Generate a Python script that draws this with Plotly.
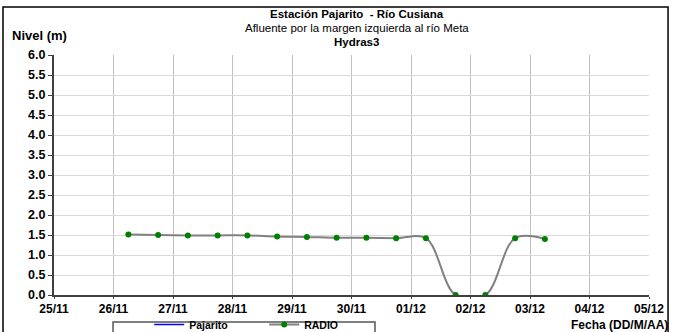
import plotly.graph_objects as go

# Datos: lecturas cada 12 horas
fechas = [
    "2012-11-26 06:00", "2012-11-26 18:00", "2012-11-27 06:00", "2012-11-27 18:00",
    "2012-11-28 06:00", "2012-11-28 18:00", "2012-11-29 06:00", "2012-11-29 18:00",
    "2012-11-30 06:00", "2012-11-30 18:00", "2012-12-01 06:00", "2012-12-01 18:00",
    "2012-12-02 06:00", "2012-12-02 18:00", "2012-12-03 06:00",
]
radio = [1.51, 1.50, 1.49, 1.49, 1.49, 1.46, 1.45, 1.43, 1.43, 1.42, 1.42, 0.0, 0.0, 1.42, 1.40]
pajarito = [None] * len(fechas)

titulos = [
    "<b>Estación Pajarito  - Río Cusiana</b>",
    "Afluente por la margen izquierda al río Meta",
    "<b>Hydras3</b>",
]

FONT = "Liberation Sans, Arial, sans-serif"

fig = go.Figure()

fig.add_trace(go.Scatter(
    x=fechas, y=pajarito, name="Pajarito", mode="lines",
    line=dict(color="#0000ff", width=1.5),
))
fig.add_trace(go.Scatter(
    x=fechas, y=radio, name="RADIO", mode="lines+markers",
    line=dict(color="#808080", width=2, shape="spline", smoothing=1),
    marker=dict(color="#008000", size=6),
))

# títulos en tres líneas separadas
anotaciones = []
for texto, yy in zip(titulos, [1.169, 1.1125, 1.056]):
    anotaciones.append(dict(
        text=texto, xref="paper", yref="paper", x=0.509, y=yy,
        xanchor="center", yanchor="middle", showarrow=False,
        font=dict(family=FONT, size=11.5),
    ))
anotaciones += [
    dict(text="<b>Nivel (m)</b>", xref="paper", yref="paper", x=-0.074, y=1.08,
         xanchor="left", yanchor="middle", showarrow=False, font=dict(family=FONT, size=13)),
    dict(text="<b>Fecha (DD/M/AA)</b>", xref="paper", yref="paper", x=1.035, y=-0.125,
         xanchor="right", yanchor="middle", showarrow=False, font=dict(family=FONT, size=12)),
]

fig.update_layout(
    width=673, height=332,
    margin=dict(l=54, r=24, t=55, b=37, autoexpand=False),
    paper_bgcolor="white", plot_bgcolor="white",
    font=dict(family=FONT, size=11, color="black"),
    showlegend=True,
    legend=dict(
        orientation="h", x=0.16, y=-0.0625, xanchor="left", yanchor="top",
        bgcolor="rgba(0,0,0,0)", borderwidth=0, entrywidth=70,
        font=dict(family=FONT, size=10.5, weight="bold"), itemwidth=30,
    ),
    annotations=anotaciones,
    shapes=[
        # marco exterior
        dict(type="rect", xref="paper", yref="paper", x0=-0.0857, x1=1.032, y0=-0.3, y1=1.2,
             line=dict(color="black", width=1.5), layer="below"),
        # recuadro de la leyenda
        dict(type="rect", xref="paper", yref="paper", x0=0.0992, x1=0.5395, y0=-0.3, y1=-0.1125,
             line=dict(color="#555555", width=1.5), layer="below"),
    ],
)

fig.update_xaxes(
    type="date", range=["2012-11-25", "2012-12-05"],
    dtick=86400000, tick0="2012-11-25", tickformat="%d/%m",
    showgrid=True, gridcolor="#c0c0c0", gridwidth=1,
    showline=True, linecolor="#404040", linewidth=2,
    ticks="outside", ticklen=2, tickcolor="#404040",
    tickfont=dict(family=FONT, size=12, color="black", weight="bold"),
    zeroline=False, automargin=False,
)
fig.update_yaxes(
    range=[0, 6], dtick=0.5, tickformat=".1f",
    showgrid=True, gridcolor="#d9d9d9", gridwidth=1,
    showline=True, linecolor="#404040", linewidth=2,
    ticks="outside", ticklen=4, tickcolor="#404040",
    tickfont=dict(family=FONT, size=12.5, color="black", weight="bold"),
    zeroline=False, automargin=False,
)

# quitar el margen del body para que la figura ocupe toda la ventana
fig.write_html("out.html", config={"displayModeBar": False},
               post_script="document.body.style.margin='0';")
